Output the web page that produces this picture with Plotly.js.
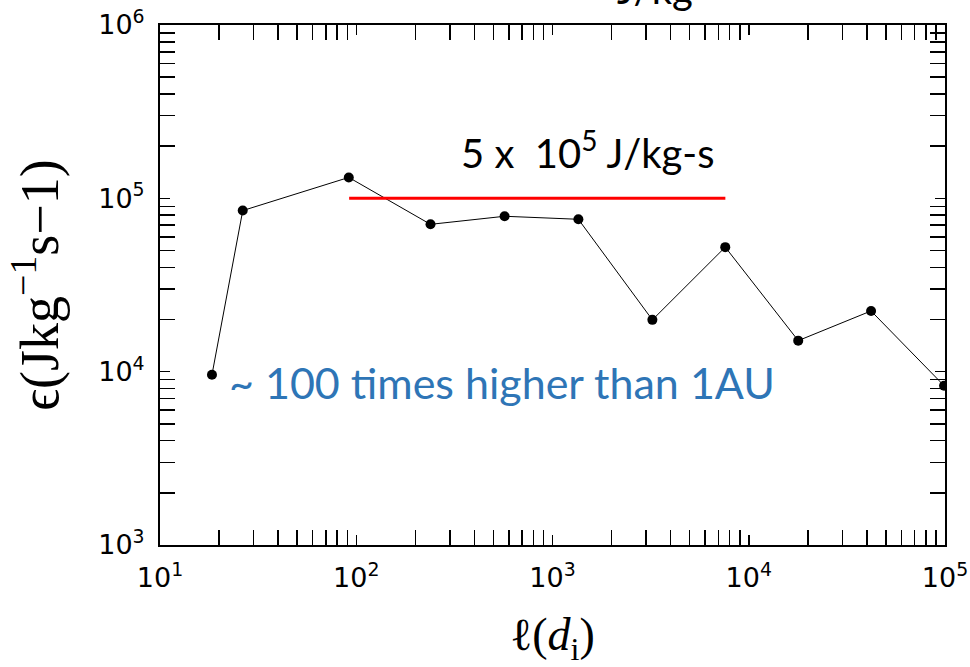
<!DOCTYPE html>
<html>
<head>
<meta charset="utf-8">
<script src="https://cdn.plot.ly/plotly-3.0.1.min.js"></script>
<style>html,body{margin:0;padding:0;background:#fff;}#chart{width:970px;height:667px;}</style>
</head>
<body>
<div id="chart"></div>
<script>
// Data
const scaleL = [18.4, 26.4, 91.6, 239, 570, 1355, 3228, 7590, 17870, 42000, 98900];
const epsilon = [9600, 85000, 132000, 70800, 78800, 75700, 19900, 52300, 15100, 22400, 8300];
const refLineX = [92, 7600];
const refLineY = [1e5, 1e5];
const xTickVals = [10, 100, 1000, 10000, 100000];
const xTickText = ['10<sup>1</sup>', '10<sup>2</sup>', '10<sup>3</sup>', '10<sup>4</sup>', '10<sup>5</sup>'];
const yTickVals = [1000, 10000, 100000, 1000000];
const yTickText = ['10<sup>3</sup>', '10<sup>4</sup>', '10<sup>5</sup>', '10<sup>6</sup>'];

function minorVals(lo, hi) {
  const out = [];
  for (let d = lo; d < hi; d++) for (let m = 2; m <= 9; m++) out.push(m * Math.pow(10, d));
  return out;
}

const traces = [
  {x: scaleL, y: epsilon, type: 'scatter', mode: 'lines+markers',
   line: {color: '#000', width: 1}, marker: {color: '#000', size: 10}},
  {x: refLineX, y: refLineY, type: 'scatter', mode: 'lines',
   line: {color: '#ff0000', width: 3}}
];

const axisCommon = {
  type: 'log', showgrid: false, zeroline: false,
  showline: true, linecolor: '#000', linewidth: 2, mirror: 'allticks',
  ticks: 'inside', ticklen: 10, tickwidth: 1.5, tickcolor: '#000',
  ticklabelstandoff: 8,
  tickfont: {family: 'DejaVu Sans', size: 27, color: '#000'}
};

const layout = {
  width: 970, height: 667,
  margin: {l: 160, r: 25, t: 25, b: 122},
  paper_bgcolor: '#fff', plot_bgcolor: '#fff',
  showlegend: false,
  xaxis: Object.assign({}, axisCommon, {
    range: [1, 5], tickvals: xTickVals, ticktext: xTickText,
    minor: {tickvals: minorVals(1, 5), ticks: 'inside', ticklen: 15, tickwidth: 1.5, tickcolor: '#000'},
    title: {text: 'ℓ(<i>d</i><sub>i</sub>)', font: {family: 'Liberation Serif', size: 46, color: '#000'}, standoff: 28}
  }),
  yaxis: Object.assign({}, axisCommon, {
    range: [3, 6], tickvals: yTickVals, ticktext: yTickText,
    minor: {tickvals: minorVals(3, 6), ticks: 'inside', ticklen: 15, tickwidth: 1.5, tickcolor: '#000'},
    title: {text: 'ϵ(Jkg<sup>−1</sup>s−1)', font: {family: 'Liberation Serif', size: 54, color: '#000'}, standoff: 22}
  }),
  annotations: [
    {xref: 'paper', yref: 'paper', x: 0.545, y: 0.815, text: '5 x  10<sup>5</sup> J/kg-s',
     showarrow: false, font: {family: 'Lato', size: 40, color: '#000'}},
    {xref: 'paper', yref: 'paper', x: 0.436, y: 0.26, text: '~ 100 times higher than 1AU',
     showarrow: false, font: {family: 'Lato', size: 43, color: '#2e75b6'}},
    {xref: 'paper', yref: 'paper', x: 0.63, y: 1.12, text: 'J/kg',
     showarrow: false, font: {family: 'Lato', size: 40, color: '#000'}}
  ]
};

Plotly.newPlot('chart', traces, layout, {displayModeBar: false, staticPlot: true});
</script>
</body>
</html>
